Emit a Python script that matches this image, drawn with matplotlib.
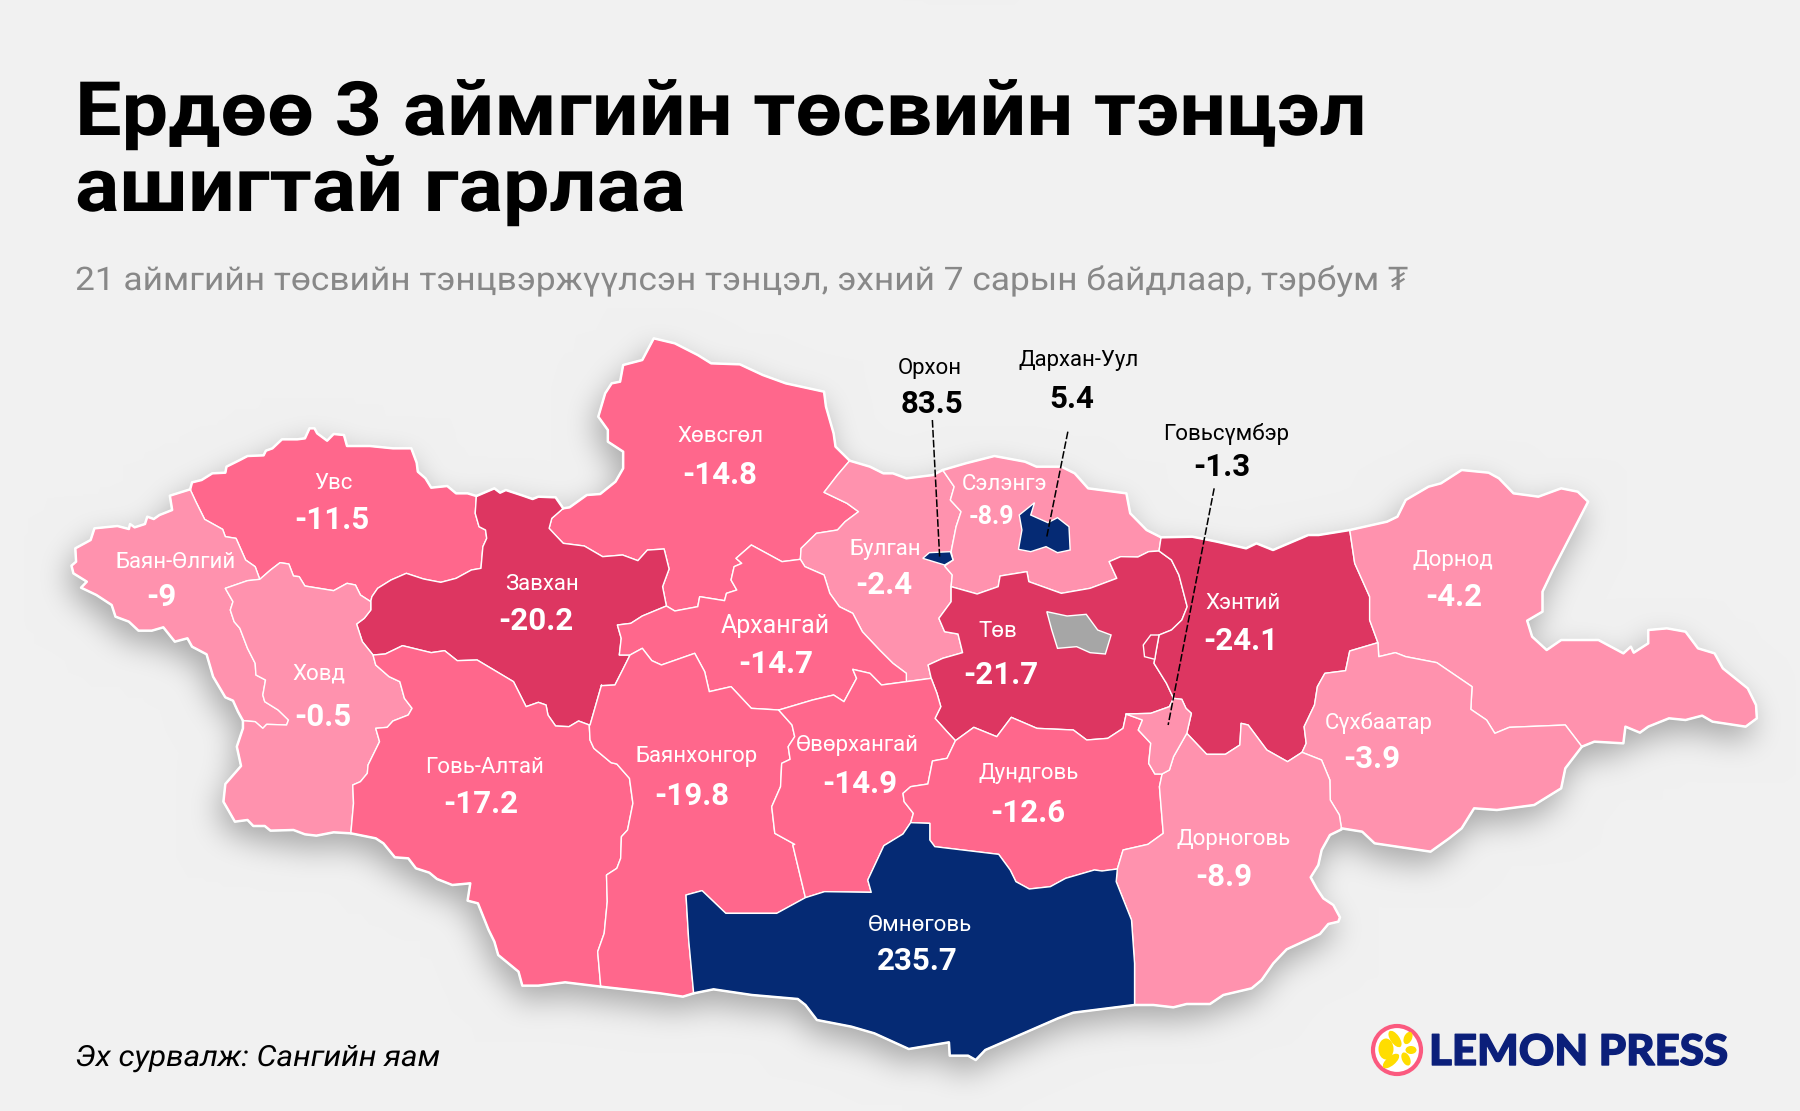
import numpy as np
import matplotlib
matplotlib.use("Agg")
import matplotlib.pyplot as plt
from matplotlib.figure import Figure
from matplotlib.backends.backend_agg import FigureCanvasAgg
from matplotlib.patches import Polygon, Ellipse, Circle
from matplotlib.patheffects import AbstractPathEffect
from matplotlib.transforms import Affine2D

plt.rcParams['font.family'] = ['Roboto', 'Noto Sans', 'DejaVu Sans']

TITLE_LINES = ["Ердөө 3 аймгийн төсвийн тэнцэл", "ашигтай гарлаа"]
SUBTITLE = "21 аймгийн төсвийн тэнцвэржүүлсэн тэнцэл, эхний 7 сарын байдлаар, тэрбум ₮"
SOURCE = "Эх сурвалж: Сангийн яам"

AIMAGS = ["Хөвсгөл", "Увс", "Баян-Өлгий", "Завхан", "Ховд", "Булган", "Архангай", "Сэлэнгэ",
          "Төв", "Хэнтий", "Дорнод", "Сүхбаатар", "Говь-Алтай", "Баянхонгор", "Өвөрхангай",
          "Дундговь", "Дорноговь", "Өмнөговь", "Орхон", "Дархан-Уул", "Говьсүмбэр"]
BALANCE = [-14.8, -11.5, -9, -20.2, -0.5, -2.4, -14.7, -8.9, -21.7, -24.1, -4.2, -3.9, -17.2,
           -19.8, -14.9, -12.6, -8.9, 235.7, 83.5, 5.4, -1.3]
NAME_XY = [(628,380),(290,421),(153,490),(472,509),(278,587),(771,479),(675,545),(875,422),
           (869,550),(1083,526),(1266,488),(1201,630),(422,669),(607,659),(747,649),(896,674),
           (1075,731),(801,806),(810,321),(940,314),(1068,378)]
VALUE_XY = [(627,414),(289,453),(141,520),(467,541),(281,625),(770,510),(676,578),(864,450),
            (872,588),(1081,558),(1266,520),(1195,661),(419,700),(603,693),(749,683),(895,708),
            (1066,764),(799,837),(812,352),(934,348),(1064,407)]
NAME_SIZE = {"Архангай": 18}
VALUE_SIZE = {"Сэлэнгэ": 18}


def crop(cx, cy, sx, sy):
    def f(*v):
        a = np.array(v, float).reshape(-1, 2)
        return np.column_stack([cx + a[:, 0] / sx, cy + a[:, 1] / sy])
    return f

Z1 = crop(60, 320, 2.613, 3)
Z2 = crop(60, 640, 2.613, 3)
Z3 = crop(560, 330, 2.613, 3)
Z4 = crop(660, 700, 2.613, 3)
Z5 = crop(1130, 450, 2.412, 3)
Z7 = crop(1120, 800, 3, 3)

def rev(a):
    return a[::-1]

def ring(*arcs):
    return np.vstack(arcs)

# Border traces
ba_out = np.vstack([Z1(340,508,287,527,293,570,260,585,245,597,228,590,222,612,195,622,183,612,180,627,150,618,90,625,80,660,40,685,42,725,30,737,35,760,70,785,55,803,95,825,135,855,145,890,180,905,205,932,240,932,270,922,300,965,333,955,345,980,383,1003),
                    Z2(400,110,432,172,452,182,465,215,478,242)])
uvs_bo = Z1(340,508,355,545,378,598,425,628,432,650,460,655,485,720,510,740,522,778)
uvs_kh = Z1(522,778,550,750,575,728,598,732,610,768,625,770,640,798,715,812,750,790,772,795,785,825,812,845)
uvs_n = Z1(340,508,345,487,370,480,398,460,432,458,435,440,470,420,490,408,532,406,538,392,555,385,580,358,620,358,640,355,652,325,665,325,672,340,698,362,715,342,742,345,750,378,810,378,870,385,918,385,932,428,935,455,955,475,970,503,1012,498,1035,520,1065,520,1088,528)
uvs_z = Z1(1088,528,1085,580,1095,620,1112,630,1115,655,1105,680,1100,745,1075,750,1035,775,995,787,950,777,905,760,865,780,830,805,815,830,812,845)
zav_n = Z1(1088,528,1135,505,1150,518,1165,510,1210,527,1235,537,1250,530,1295,532,1315,565)
zav_hov = np.vstack([Z1(1315,565,1285,595,1278,625,1315,670,1370,678,1418,710,1470,705,1510,722,1535,690),
                     Z3(232,660,272,657,285,717,268,770,278,828)])
zav_ark = Z3(278,828,215,858,185,880,150,885,160,925,155,975,183,975)
zav_bay = np.vstack([Z3(183,975), Z1(1470,1050,1450,1095,1415,1097), Z2(1415,135,1385,255)])
zav_gov = Z2(1383,255,1355,243,1330,260,1295,258,1275,225,1270,195,1250,187,1218,200,1185,125,1090,60,1038,62,1005,32,970,38,895,17,850,42,818,45)
zav_hd = Z1(812,845,812,870,795,895,775,912,790,965,818,1005)
hd_ba = np.vstack([Z1(522,778,490,782,432,805,452,845,445,870,455,905,470,925,490,985,510,1030,512,1065),
                   Z2(537,120,530,165,535,185,570,210,597,240,592,255,540,253,530,265,510,245,478,242)])
hd_gov = Z2(818,45,825,75,860,110,888,125,900,175,920,205,910,225,870,243,855,262,825,265,835,305,805,375,803,400,785,425,765,435,767,490,760,580)
hd_s = Z2(478,242,478,265,462,320,473,378,432,432,427,485,457,545,490,540,505,558,535,558,550,572,610,570,640,583,670,587,715,577,760,580)
gov_s = Z2(760,580,825,595,845,610,875,652,910,655,930,685,965,698,985,717,1025,735,1072,730,1065,782,1092,790,1120,870,1135,905,1145,945,1198,995,1208,1037,1250,1037,1320,1027,1413,1040)
gov_bay = Z2(1383,255,1385,300,1395,325,1440,368,1455,372,1488,415,1497,490,1483,570,1467,590,1465,655,1455,685,1428,705,1430,785,1422,880,1405,935,1413,1040)
bay_s = np.vstack([Z2(1413,1040), Z4(0,880,60,890,88,880)])
bay_om = Z4(88,880,75,720,68,585,110,572,172,640,305,640,380,593)
bay_ov = Z4(380,593,347,435,352,433,300,400,292,320,315,260,318,190,340,178,335,140,352,110,345,75,310,30)
bay_ar = Z3(183,975,215,955,240,992,265,1005,352,970,378,1025,390,1085,447,1070,500,1135,572,1140)
ar_ov = Z3(572,1140,660,1110,715,1095,742,1115,775,1045,765,1018,810,1030,840,1065,905,1055)
ar_hov = Z3(278,828,300,843,360,830,365,800,430,812,435,790,462,780,447,750,455,710,475,700,460,685,500,645,580,695,628,688)
ar_bul = Z3(628,688,640,710,690,735,705,790,730,830,765,850,790,905,835,960,870,1000,905,1030,905,1055)
hov_out = Z3(8,535,25,532,70,495,105,492,145,455,165,415,165,365,125,335,125,300,100,260,118,190,135,160,157,155,165,105,215,90,245,25,300,40,360,75,395,100,470,103,530,135,590,160,690,185,695,230,715,310,720,350,757,392)
hov_bul = Z3(757,392,725,435,690,487,750,520,780,545,745,575,725,600,670,610,630,655,628,688)
bul_n = Z3(757,392,810,410,845,430,870,430,905,445,975,435,1000,420)
bul_sel = Z3(1000,420,1030,470,1020,510,1048,545,1035,590,1022,665,1027,690,1005,708,1025,735,1022,770)
bul_tov = Z3(1022,770,1022,815,990,865,1005,905,1040,912,1052,968,1000,985,962,1005,970,1045)
bul_ov = Z3(970,1045,905,1055)
tov_ov = np.vstack([Z3(970,1045,985,1090,995,1130,980,1165), Z4(750,95,772,122)])
ov_du = Z4(772,122,750,175,712,183,700,252,655,260,635,280,638,305,662,340,655,368)
ov_om = Z4(655,368,635,402,585,437,543,540,552,577,430,575,380,593)
du_om = Z4(655,368,705,370,705,420,718,440,885,463,915,510,930,545,965,567,1020,560,1060,535,1135,510,1155,513,1195,507)
om_do = Z4(1195,507,1192,545,1232,660,1240,790,1240,915)
om_s = Z4(88,880,140,868,240,885,360,897,380,915,410,960,500,980,560,1000,650,1047,755,1027,757,1067,805,1067,825,1080,850,1050,1040,955,1080,938,1240,915)
du_do = Z4(1195,507,1210,450,1275,433,1315,400,1305,260,1312,222)
du_tov = Z4(772,122,820,82,880,110,918,52,985,85,1080,90,1115,120,1170,115,1210,85,1218,43)
du_gs = Z5(-10,792,30,810,20,840,50,880,45,940,60,972,77,972)
tov_gs = Z5(-10,792,50,790,95,770,105,745)
hen_gs = Z5(105,745,125,748,135,775,148,790,137,850)
gs_do = Z5(137,850,105,920,95,960,77,972)
tov_hen = Z5(105,745,88,700,58,640,62,610,70,555,100,540,125,510,138,470,118,375,100,330,70,303)
enclave = Z5(70,555,50,555,32,585,35,620,60,628,62,610)
tov_sel = np.vstack([Z3(1022,770,1090,792,1145,770,1150,738,1220,725,1225,755,1310,790,1385,775,1455,745,1435,695,1465,680,1510,681), Z5(45,305,70,303)])
sel_n = np.vstack([Z3(1000,420,1060,400,1135,378,1215,395,1245,410,1310,410,1345,430,1380,475,1480,490,1490,550), Z5(40,240,75,262)])
sel_hen = Z5(75,262,70,303)
hen_n = Z5(75,262,150,260,210,275,280,295,305,280,345,300,430,255,455,255,530,240)
hen_dn = Z5(530,240,542,340,578,440,578,510,598,578)
hen_su = Z5(598,578,530,603,520,662,470,670,452,710,445,765,420,830,425,880,415,907)
hen_do = Z5(137,850,185,913,230,913,265,885,268,820,285,825,330,900,380,935,415,907)
do_su = Z5(415,907,462,930,482,990,483,1050,505,1095,510,1135)
su_dn = Z5(598,578,600,620,640,608,665,620,740,638,825,710,822,778,860,810,880,850,915,832,1050,825,1090,890)
su_s = Z5(510,1135,560,1145,590,1180,725,1205,770,1165,800,1135,830,1075,885,1080,975,1065,1040,1015,1050,955,1090,890)
dn_out = Z5(530,240,620,215,645,200,665,150,720,110,750,100,800,60,865,68,890,85,925,130,985,140,1040,115,1080,125,1105,155,1020,360,995,425,995,485,958,512,970,560,1005,600,1040,570,1130,570,1190,610,1208,590,1215,608,1250,580,1250,540,1295,535,1340,545,1370,595,1410,610,1430,655,1490,715,1510,765,1512,805,1485,830,1405,815,1380,797,1340,810,1300,805,1250,830,1230,848,1195,830,1190,880,1120,875,1090,890)
do_out = Z7(665,88,630,105,605,150,595,195,572,232,590,265,610,295,640,315,660,352,655,365,625,372,600,402,500,448,460,490,425,540,395,565,310,585,270,612,200,612,160,622,100,615,45,615)
orkhon = Z3(948,685,965,668,1020,665,1027,690,1005,705)
darkhan = Z3(1200,555,1240,518,1230,555,1275,578,1300,563,1330,590,1333,660,1300,668,1270,650,1230,665,1198,658,1207,600)
capital = Z3(1272,845,1325,858,1375,853,1405,900,1440,915,1425,972,1385,968,1350,950,1300,955,1285,900)

SHAPES = {
    "Хөвсгөл": ring(hov_out, hov_bul, rev(ar_hov), rev(zav_hov)),
    "Увс": ring(uvs_n, uvs_z, rev(uvs_kh), rev(uvs_bo)),
    "Баян-Өлгий": ring(ba_out, rev(hd_ba), rev(uvs_bo)),
    "Завхан": ring(zav_n, zav_hov, zav_ark, zav_bay, zav_gov, rev(zav_hd), rev(uvs_z)),
    "Ховд": ring(hd_ba, hd_s, rev(hd_gov), rev(zav_hd), rev(uvs_kh)),
    "Булган": ring(bul_n, bul_sel, bul_tov, bul_ov, rev(ar_bul), rev(hov_bul)),
    "Архангай": ring(bay_ar, ar_ov, rev(ar_bul), rev(ar_hov), zav_ark),
    "Сэлэнгэ": ring(sel_n, sel_hen, rev(tov_sel), rev(bul_sel)),
    "Төв": ring(tov_sel, rev(tov_hen), rev(tov_gs), rev(du_tov), rev(tov_ov), rev(bul_tov)),
    "Хэнтий": ring(hen_n, hen_dn, hen_su, rev(hen_do), rev(hen_gs), tov_hen, rev(sel_hen)),
    "Дорнод": ring(dn_out, rev(su_dn), rev(hen_dn)),
    "Сүхбаатар": ring(su_dn, rev(su_s), rev(do_su), rev(hen_su)),
    "Говь-Алтай": ring(hd_gov, gov_s, rev(gov_bay), zav_gov),
    "Баянхонгор": ring(gov_bay, bay_s, bay_om, bay_ov, rev(bay_ar), zav_bay),
    "Өвөрхангай": ring(bay_ov, ar_ov, rev(bul_ov), tov_ov, ov_du, ov_om),
    "Дундговь": ring(du_tov, du_gs, rev(du_do), rev(du_om), rev(ov_du)),
    "Дорноговь": ring(du_do, rev(gs_do), hen_do, do_su, do_out, rev(om_do)),
    "Өмнөговь": ring(bay_om, rev(ov_om), du_om, om_do, rev(om_s)),
    "Говьсүмбэр": ring(tov_gs, hen_gs, gs_do, rev(du_gs)),
    "Орхон": orkhon,
    "Дархан-Уул": darkhan,
}
OUTER = [ba_out, hd_s, gov_s, bay_s, om_s, do_out, su_s, dn_out, hen_n, sel_n, bul_n, hov_out, zav_n, uvs_n]
SMALL_LABELS = {"Орхон", "Дархан-Уул", "Говьсүмбэр"}
LEADERS = [np.vstack([Z3(973,270), Z3(992,680)]), np.vstack([Z3(1327,305), Z3(1272,620)]),
           np.vstack([Z5(203,115), Z5(92,825)])]

BG = "#F1F1F1"
NAVY, LIGHT, MID, DARK, GREY = "#052A74", "#FF92AE", "#FF678C", "#DD3661", "#A6A6A6"

def colour(v):
    if v > 0:
        return NAVY
    if v > -10:
        return LIGHT
    if v > -20:
        return MID
    return DARK

W, H = 1800, 1111
S = 1800 / 1568


class StretchX(AbstractPathEffect):
    """Widen glyphs about the anchor of a text, optionally with a stroke."""
    def __init__(self, sx, x0, stroke=0.0, colour=None):
        super().__init__()
        self.sx, self.x0, self.stroke, self.colour = sx, x0, stroke, colour

    def draw_path(self, renderer, gc, tpath, affine, rgbFace=None):
        aff = affine + Affine2D().translate(-self.x0, 0).scale(self.sx, 1).translate(self.x0, 0)
        if self.stroke:
            g = renderer.new_gc()
            g.copy_properties(gc)
            g.set_linewidth(self.stroke)
            g.set_foreground(self.colour)
            renderer.draw_path(g, tpath, aff, rgbFace)
            g.restore()
        else:
            renderer.draw_path(gc, tpath, aff, rgbFace)


# soft drop shadow under the map
sf = Figure(figsize=(W / 100, H / 100), dpi=100, facecolor="white")
FigureCanvasAgg(sf)
sa = sf.add_axes([0, 0, 1, 1])
sa.set_xlim(0, W); sa.set_ylim(H, 0); sa.axis("off")
for p in SHAPES.values():
    sa.add_patch(Polygon(p, closed=True, fc="black", ec="black", lw=1))
sf.canvas.draw()
mask = 1 - np.array(sf.canvas.buffer_rgba())[:, :, 0].astype(float) / 255.0

def box(a, r, axis):
    pad = [(r, r) if i == axis else (0, 0) for i in range(2)]
    k = np.cumsum(np.insert(np.pad(a, pad, mode="edge"), 0, 0, axis=axis), axis=axis)
    n = a.shape[axis]
    return (np.take(k, np.arange(2 * r + 1, n + 2 * r + 1), axis=axis) - np.take(k, np.arange(0, n), axis=axis)) / (2 * r + 1)

blur = mask
for _ in range(3):
    blur = box(box(blur, 14, 0), 14, 1)
blur = np.roll(np.roll(blur, 13, axis=0), -4, axis=1)
bg_rgb = np.array(matplotlib.colors.to_rgb(BG))
shaded = np.clip(bg_rgb[None, None, :] * (1 - 0.30 * blur[:, :, None]), 0, 1)

fig = plt.figure(figsize=(W / 100, H / 100), dpi=100, facecolor=BG)
ax = fig.add_axes([0, 0, 1, 1])
ax.set_xlim(0, W); ax.set_ylim(H, 0)
ax.axis("off")
# shadow goes directly into the figure background, beneath the axes
fig.figimage((shaded * 255).astype(np.uint8), xo=0, yo=0, origin="upper", zorder=-10)

for name, v in zip(AIMAGS, BALANCE):
    if name in SMALL_LABELS:
        continue
    ax.add_patch(Polygon(SHAPES[name], closed=True, fc=colour(v), ec="white", lw=1.0, zorder=2, joinstyle="round"))
ax.add_patch(Polygon(enclave, closed=True, fc=DARK, ec="white", lw=1.0, zorder=2.5))
ax.add_patch(Polygon(capital, closed=True, fc=GREY, ec="white", lw=1.0, zorder=3))
for name in SMALL_LABELS:
    v = BALANCE[AIMAGS.index(name)]
    ax.add_patch(Polygon(SHAPES[name], closed=True, fc=colour(v), ec="white", lw=1.0, zorder=3))
for arc in OUTER:
    ax.plot(arc[:, 0], arc[:, 1], color="white", lw=1.8, zorder=4, solid_joinstyle="round", solid_capstyle="round")
for seg in LEADERS:
    ax.plot(seg[:, 0], seg[:, 1], color="black", lw=1.1, ls=(0, (5, 1.5)), zorder=5)

for name, v, nxy, vxy in zip(AIMAGS, BALANCE, NAME_XY, VALUE_XY):
    c = "black" if name in SMALL_LABELS else "white"
    ax.text(nxy[0] * S, nxy[1] * S, name, color=c, ha="center", va="center",
            fontsize=NAME_SIZE.get(name, 16), zorder=6)
    ax.text(vxy[0] * S, vxy[1] * S, f"{v:g}", color=c, ha="center", va="center",
            fontsize=VALUE_SIZE.get(name, 22.5), fontweight="bold", zorder=6)

x0 = 75
ax.text(x0, 135, TITLE_LINES[0], fontsize=54, fontweight="bold", color="black", ha="left", va="baseline",
        path_effects=[StretchX(1.104, x0)])
ax.text(x0, 211, TITLE_LINES[1], fontsize=54, fontweight="bold", color="black", ha="left", va="baseline",
        path_effects=[StretchX(1.104, x0)])
ax.text(x0, 290, SUBTITLE, fontsize=23.4, color="#888888", ha="left", va="baseline",
        path_effects=[StretchX(1.086, x0)])
ax.text(x0, 1066, SOURCE, fontsize=21, style="italic", color="black", ha="left", va="baseline",
        path_effects=[StretchX(1.08, x0)])

# publisher mark
ax.add_patch(Circle((1397, 1050), 24, fc="white", ec="#FB5A7F", lw=3, zorder=6))
for dx, dy, w, h, ang in [(-11, -1, 15, 21, 0), (-2, -11, 9, 19, -35), (11, -12, 8, 13, 25),
                          (14, 0, 11, 8, 0), (9, 9, 8, 14, -25), (-6, 11, 9, 20, 50)]:
    ax.add_patch(Ellipse((1397 + dx, 1050 + dy), w, h, angle=ang, fc="#FFDD00", ec="none", zorder=7))
ax.text(1429, 1065, "LEMON PRESS", fontfamily="Lato", fontweight="black", fontsize=30.5, color="#0B1F7A",
        ha="left", va="baseline", path_effects=[StretchX(1.035, 1429, stroke=1.0, colour="#0B1F7A")])

fig.savefig("out.png", dpi=100, facecolor=BG)
